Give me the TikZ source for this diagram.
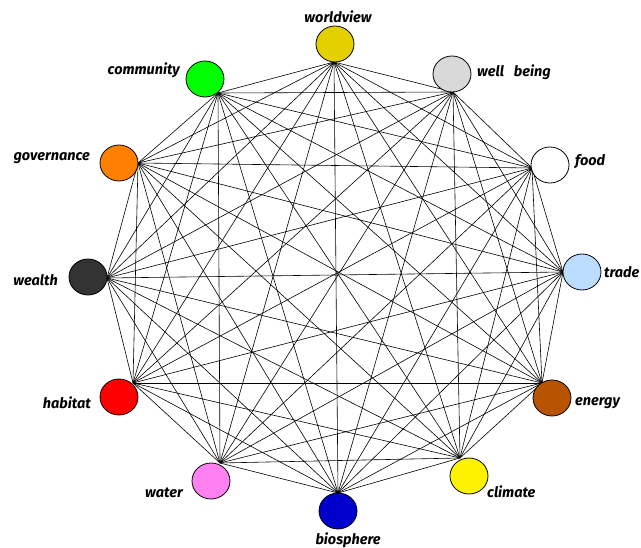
\documentclass[tikz,border=0pt]{standalone}
\usepackage{fontspec}
\setmainfont{Fira Sans}
\usetikzlibrary{shapes.geometric}
\definecolor{cworld}{RGB}{228,208,0}
\definecolor{cwell}{RGB}{217,217,217}
\definecolor{cgov}{RGB}{255,128,0}
\definecolor{cwealth}{RGB}{51,51,51}
\definecolor{ctrade}{RGB}{187,221,255}
\definecolor{cenergy}{RGB}{184,84,0}
\definecolor{cwater}{RGB}{255,128,240}
\definecolor{cbio}{RGB}{0,0,204}
\tikzset{
  ball/.style={ellipse, draw=black, line width=0.8pt, minimum width=38pt, minimum height=36pt, inner sep=0pt},
  lbl/.style={font=\fontsize{14.5}{16}\selectfont\bfseries\itshape, inner sep=0pt},
  link/.style={line width=0.6pt, black}
}
\begin{document}
\begin{tikzpicture}[x=1pt,y=-1pt]
\useasboundingbox (0,0) rectangle (641,548);
% hubs
\coordinate (h1) at (334,62);
\coordinate (h2) at (453,92);
\coordinate (h3) at (532,168);
\coordinate (h4) at (563,272);
\coordinate (h5) at (542,383);
\coordinate (h6) at (460,458);
\coordinate (h7) at (338,493);
\coordinate (h8) at (220,463);
\coordinate (h9) at (133,383);
\coordinate (h10) at (107,278);
\coordinate (h11) at (138,163);
\coordinate (h12) at (218,93);
\foreach \i in {1,...,12}{
  \foreach \j in {1,...,12}{
    \ifnum\i<\j \draw[link] (h\i) -- (h\j); \fi
  }
}
% balls
\node[ball, fill=cworld] (c1) at (335,44) {};
\node[ball, fill=cwell] (c2) at (452,74) {};
\node[ball, fill=white] (c3) at (550,165) {};
\node[ball, fill=ctrade] (c4) at (582,272) {};
\node[ball, fill=cenergy] (c5) at (552,398) {};
\node[ball, fill=yellow] (c6) at (469,476) {};
\node[ball, fill=cbio] (c7) at (338,511) {};
\node[ball, fill=cwater] (c8) at (211,481) {};
\node[ball, fill=red] (c9) at (119,397) {};
\node[ball, fill=cwealth] (c10) at (88,277) {};
\node[ball, fill=cgov] (c11) at (119,163) {};
\node[ball, fill=green] (c12) at (205,79) {};
% labels
\node[lbl] (l1) at (338,17) {worldview};
\node[lbl, anchor=west] (l2) at (477,72) {well~~~being};
\node[lbl, anchor=west] (l3) at (575,162) {food};
\node[lbl, anchor=west] (l4) at (604,272) {trade};
\node[lbl, anchor=west] (l5) at (575,403) {energy};
\node[lbl, anchor=west] (l6) at (487,492) {climate};
\node[lbl] (l7) at (348,540) {biosphere};
\node[lbl, anchor=east] (l8) at (183,493) {water};
\node[lbl, anchor=east] (l9) at (91,403) {habitat};
\node[lbl, anchor=east] (l10) at (58,280) {wealth};
\node[lbl, anchor=east] (l11) at (90,158) {governance};
\node[lbl, anchor=east] (l12) at (180,70) {community};
\end{tikzpicture}
\end{document}
